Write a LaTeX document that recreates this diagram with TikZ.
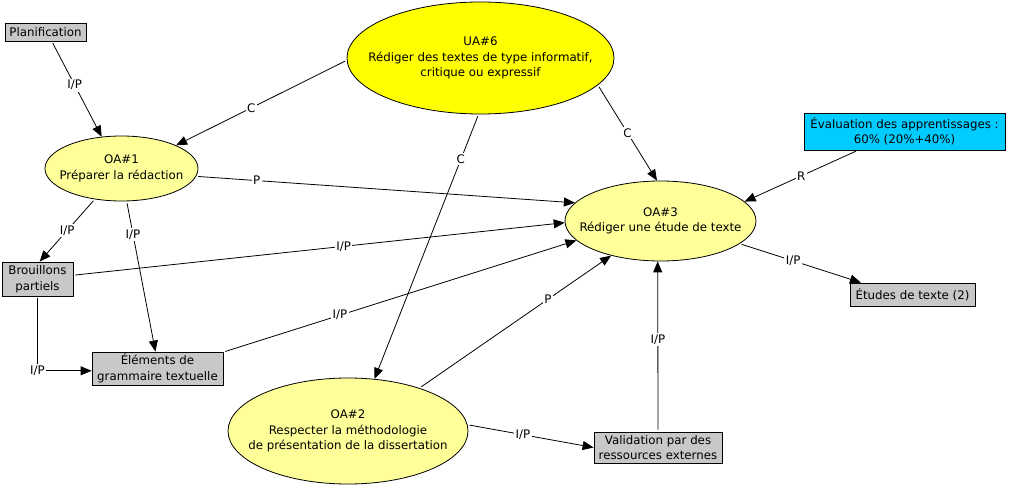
\documentclass[tikz,border=0pt]{standalone}
\usepackage{fontspec}
\setmainfont{DejaVu Sans}
\usetikzlibrary{shapes.geometric,arrows.meta}
\definecolor{oafill}{RGB}{255,255,153}
\definecolor{uafill}{RGB}{255,255,0}
\definecolor{boxgray}{RGB}{200,200,200}
\definecolor{evalcyan}{RGB}{0,204,255}
\begin{document}
\begin{tikzpicture}[x=1pt,y=-1pt,
  font=\fontsize{11.8}{15.5}\selectfont,
  oval/.style={ellipse, draw=black, line width=0.8pt, inner sep=0pt},
  box/.style={rectangle, draw=black, line width=0.8pt, fill=boxgray, inner sep=0pt, align=center},
  txt/.style={align=center, inner sep=0pt},
  link/.style={line width=0.8pt, shorten <=2pt, -{Triangle[length=11pt,width=9pt]}},
  lbl/.style={fill=white, inner sep=1.5pt}]
\useasboundingbox (0,0) rectangle (1011,486);
% ellipses
\node[oval, fill=uafill, minimum width=267pt, minimum height=112pt] (ua6) at (480.5,58) {};
\node[txt] (ua6t) at (ua6) {UA\#6\\Rédiger des textes de type informatif,\\critique ou expressif};
\node[oval, fill=oafill, minimum width=153pt, minimum height=65pt] (oa1) at (121.5,168.5) {};
\node[txt] (oa1t) at (oa1) {OA\#1\\Préparer la rédaction};
\node[oval, fill=oafill, minimum width=191pt, minimum height=80pt] (oa3) at (660.5,221) {};
\node[txt] (oa3t) at (oa3) {OA\#3\\Rédiger une étude de texte};
\node[oval, fill=oafill, minimum width=240pt, minimum height=106pt] (oa2) at (348,431) {};
\node[txt] (oa2t) at (oa2) {OA\#2\\Respecter la méthodologie\\de présentation de la dissertation};
% boxes
\node[box, minimum width=81pt, minimum height=18pt] (plan) at (45.5,32) {Planification};
\node[box, fill=evalcyan, minimum width=201pt, minimum height=37pt] (eval) at (904.5,131.5) {Évaluation des apprentissages :\\60\% (20\%+40\%)};
\node[box, minimum width=125pt, minimum height=23pt] (etudes) at (912.5,294.5) {Études de texte (2)};
\node[box, minimum width=71pt, minimum height=34pt] (brou) at (37.5,279) {Brouillons\\partiels};
\node[box, minimum width=131pt, minimum height=33pt] (elem) at (157.5,368.5) {Éléments de\\grammaire textuelle};
\node[box, minimum width=128pt, minimum height=31pt] (valid) at (658,447.5) {Validation par des\\ressources externes};
% connectors
\draw[link] (plan.-56) -- node[lbl,pos=0.46]{I/P} (oa1.122);
\draw[link] (ua6.181) -- node[lbl,pos=0.56]{C} (oa1.23);
\draw[link] (ua6.-13) -- node[lbl,pos=0.5]{C} (oa3.95);
\draw[link] (ua6.-92) -- node[lbl,pos=0.17]{C} (oa2.63);
\draw[link] (oa1.-6) -- node[lbl,pos=0.16]{P} (oa3.168);
\draw[link] (oa1.229) -- node[lbl,pos=0.5]{I/P} (brou.83);
\draw[link] (oa1.-81) -- node[lbl,pos=0.22]{I/P} (elem.97);
\draw[link] (brou.6) -- node[lbl,pos=0.55]{I/P} (oa3.181);
\draw[link] (brou.south) |- node[lbl,pos=0.5]{I/P} (elem.-178);
\draw[link] (elem.14) -- node[lbl,pos=0.33]{I/P} (oa3.193);
\draw[link] (oa2.31) -- node[lbl,pos=0.67]{P} (oa3.215);
\draw[link] (oa2.3) -- node[lbl,pos=0.44]{I/P} (valid.west);
\draw[link] (valid.north) -- node[lbl,pos=0.54]{I/P} (oa3.266.5);
\draw[link] (eval.202) -- node[lbl,pos=0.5]{R} (oa3.13);
\draw[link] (oa3.-16) -- node[lbl,pos=0.44]{I/P} (etudes.167);
\end{tikzpicture}
\end{document}
